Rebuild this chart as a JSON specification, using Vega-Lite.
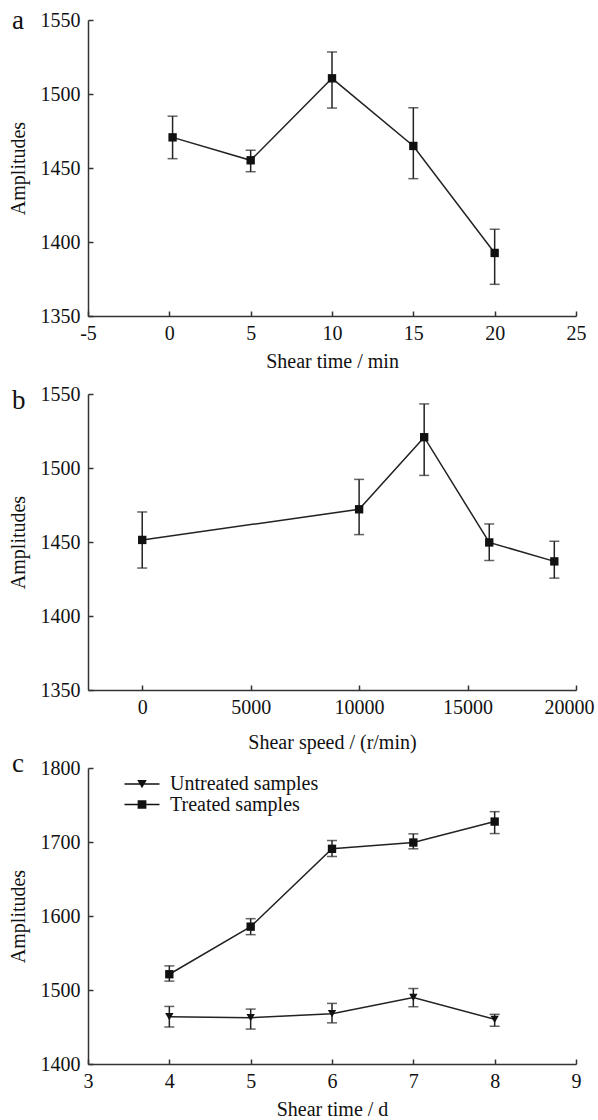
{
  "$schema": "https://vega.github.io/schema/vega-lite/v6.json",
  "background": "white",
  "padding": {"left": 8, "top": 7, "right": 5, "bottom": 5},
  "bounds": "flush",
  "spacing": 78,
  "vconcat": [
    {
      "width": 488,
      "height": 296,
      "data": {"values": [
        {"x": 0.2, "y": 1470.7, "lo": 1456.3, "hi": 1485.0},
        {"x": 5, "y": 1455.2, "lo": 1447.5, "hi": 1462.0},
        {"x": 10, "y": 1510.6, "lo": 1490.5, "hi": 1528.4},
        {"x": 15, "y": 1464.9, "lo": 1442.8, "hi": 1490.7},
        {"x": 20, "y": 1392.6, "lo": 1371.4, "hi": 1408.6}
      ]},
      "layer": [
        {
          "mark": {"type": "errorbar", "ticks": true, "size": 10, "thickness": 1.5, "color": "#222"},
          "encoding": {
            "x": {"field": "x", "type": "quantitative", "title": "Shear time / min", "scale": {"domain": [-5, 25], "nice": false, "zero": false}, "axis": {"values": [-5, 0, 5, 10, 15, 20, 25], "labelExpr": "datum.value < 0 ? '-' + abs(datum.value) : '' + datum.value"}},
            "y": {"field": "lo", "type": "quantitative", "title": "Amplitudes", "scale": {"domain": [1350, 1550], "nice": false, "zero": false}, "axis": {"values": [1350, 1400, 1450, 1500, 1550], "format": "d"}},
            "y2": {"field": "hi"}
          }
        },
        {
          "mark": {"type": "line", "color": "#222", "strokeWidth": 1.5},
          "encoding": {
            "x": {"field": "x", "type": "quantitative", "title": "Shear time / min", "scale": {"domain": [-5, 25], "nice": false, "zero": false}, "axis": {"values": [-5, 0, 5, 10, 15, 20, 25], "labelExpr": "datum.value < 0 ? '-' + abs(datum.value) : '' + datum.value"}},
            "y": {"field": "y", "type": "quantitative", "title": "Amplitudes", "scale": {"domain": [1350, 1550], "nice": false, "zero": false}, "axis": {"values": [1350, 1400, 1450, 1500, 1550], "format": "d"}}
          }
        },
        {
          "mark": {"type": "point", "shape": "square", "filled": true, "size": 70, "color": "#111", "opacity": 1},
          "encoding": {
            "x": {"field": "x", "type": "quantitative", "title": "Shear time / min", "scale": {"domain": [-5, 25], "nice": false, "zero": false}, "axis": {"values": [-5, 0, 5, 10, 15, 20, 25], "labelExpr": "datum.value < 0 ? '-' + abs(datum.value) : '' + datum.value"}},
            "y": {"field": "y", "type": "quantitative", "title": "Amplitudes", "scale": {"domain": [1350, 1550], "nice": false, "zero": false}, "axis": {"values": [1350, 1400, 1450, 1500, 1550], "format": "d"}}
          }
        },
        {
          "data": {"values": [{"label": "a"}]},
          "mark": {"type": "text", "font": "Liberation Serif", "fontSize": 27, "fontWeight": "normal", "color": "#111", "align": "left", "baseline": "alphabetic", "dx": -76, "dy": 9},
          "encoding": {
            "text": {"field": "label"},
            "x": {"datum": -5, "type": "quantitative"},
            "y": {"datum": 1550, "type": "quantitative"}
          }
        }
      ]
    },
    {
      "width": 488,
      "height": 296,
      "data": {"values": [
        {"x": 0, "y": 1451.4, "lo": 1432.4, "hi": 1470.3},
        {"x": 10000, "y": 1472.1, "lo": 1455.0, "hi": 1492.3},
        {"x": 13000, "y": 1520.8, "lo": 1495.0, "hi": 1543.3},
        {"x": 16000, "y": 1449.7, "lo": 1437.5, "hi": 1462.2},
        {"x": 19000, "y": 1436.9, "lo": 1425.6, "hi": 1450.5}
      ]},
      "layer": [
        {
          "mark": {"type": "errorbar", "ticks": true, "size": 10, "thickness": 1.5, "color": "#222"},
          "encoding": {
            "x": {"field": "x", "type": "quantitative", "title": "Shear speed / (r/min)", "scale": {"domain": [-2500, 20000], "nice": false, "zero": false}, "axis": {"values": [0, 5000, 10000, 15000, 20000], "format": "d", "titlePadding": 15, "labelOffset": {"condition": {"test": "datum.value === 20000", "value": -7}, "value": 0}}},
            "y": {"field": "lo", "type": "quantitative", "title": "Amplitudes", "scale": {"domain": [1350, 1550], "nice": false, "zero": false}, "axis": {"values": [1350, 1400, 1450, 1500, 1550], "format": "d"}},
            "y2": {"field": "hi"}
          }
        },
        {
          "mark": {"type": "line", "color": "#222", "strokeWidth": 1.5},
          "encoding": {
            "x": {"field": "x", "type": "quantitative", "title": "Shear speed / (r/min)", "scale": {"domain": [-2500, 20000], "nice": false, "zero": false}, "axis": {"values": [0, 5000, 10000, 15000, 20000], "format": "d", "titlePadding": 15, "labelOffset": {"condition": {"test": "datum.value === 20000", "value": -7}, "value": 0}}},
            "y": {"field": "y", "type": "quantitative", "title": "Amplitudes", "scale": {"domain": [1350, 1550], "nice": false, "zero": false}, "axis": {"values": [1350, 1400, 1450, 1500, 1550], "format": "d"}}
          }
        },
        {
          "mark": {"type": "point", "shape": "square", "filled": true, "size": 70, "color": "#111", "opacity": 1},
          "encoding": {
            "x": {"field": "x", "type": "quantitative", "title": "Shear speed / (r/min)", "scale": {"domain": [-2500, 20000], "nice": false, "zero": false}, "axis": {"values": [0, 5000, 10000, 15000, 20000], "format": "d", "titlePadding": 15, "labelOffset": {"condition": {"test": "datum.value === 20000", "value": -7}, "value": 0}}},
            "y": {"field": "y", "type": "quantitative", "title": "Amplitudes", "scale": {"domain": [1350, 1550], "nice": false, "zero": false}, "axis": {"values": [1350, 1400, 1450, 1500, 1550], "format": "d"}}
          }
        },
        {
          "data": {"values": [{"label": "b"}]},
          "mark": {"type": "text", "font": "Liberation Serif", "fontSize": 27, "fontWeight": "normal", "color": "#111", "align": "left", "baseline": "alphabetic", "dx": -76, "dy": 15},
          "encoding": {
            "text": {"field": "label"},
            "x": {"datum": -2500, "type": "quantitative"},
            "y": {"datum": 1550, "type": "quantitative"}
          }
        }
      ]
    },
    {
      "width": 488,
      "height": 296,
      "data": {"values": [
        {"series": "Untreated samples", "x": 4, "y": 1463.9, "lo": 1450.0, "hi": 1477.8},
        {"series": "Untreated samples", "x": 5, "y": 1462.6, "lo": 1447.2, "hi": 1474.2},
        {"series": "Untreated samples", "x": 6, "y": 1468.0, "lo": 1455.6, "hi": 1481.9},
        {"series": "Untreated samples", "x": 7, "y": 1489.9, "lo": 1477.4, "hi": 1502.0},
        {"series": "Untreated samples", "x": 8, "y": 1460.4, "lo": 1451.0, "hi": 1467.1},
        {"series": "Treated samples", "x": 4, "y": 1521.3, "lo": 1512.0, "hi": 1532.6},
        {"series": "Treated samples", "x": 5, "y": 1585.6, "lo": 1574.8, "hi": 1596.4},
        {"series": "Treated samples", "x": 6, "y": 1690.8, "lo": 1680.4, "hi": 1702.0},
        {"series": "Treated samples", "x": 7, "y": 1699.3, "lo": 1690.8, "hi": 1711.0},
        {"series": "Treated samples", "x": 8, "y": 1727.6, "lo": 1711.4, "hi": 1741.0}
      ]},
      "resolve": {"scale": {"shape": "independent"}, "legend": {"shape": "independent"}},
      "layer": [
        {
          "mark": {"type": "errorbar", "ticks": true, "size": 10, "thickness": 1.5, "color": "#222"},
          "encoding": {
            "x": {"field": "x", "type": "quantitative", "title": "Shear time / d", "scale": {"domain": [3, 9], "nice": false, "zero": false}, "axis": {"values": [3, 4, 5, 6, 7, 8, 9], "format": "d", "titlePadding": 8}},
            "y": {"field": "lo", "type": "quantitative", "title": "Amplitudes", "scale": {"domain": [1400, 1800], "nice": false, "zero": false}, "axis": {"values": [1400, 1500, 1600, 1700, 1800], "format": "d"}},
            "y2": {"field": "hi"},
            "detail": {"field": "series"}
          }
        },
        {
          "mark": {"type": "line", "color": "#222", "strokeWidth": 1.5},
          "encoding": {
            "x": {"field": "x", "type": "quantitative", "title": "Shear time / d", "scale": {"domain": [3, 9], "nice": false, "zero": false}, "axis": {"values": [3, 4, 5, 6, 7, 8, 9], "format": "d", "titlePadding": 8}},
            "y": {"field": "y", "type": "quantitative", "title": "Amplitudes", "scale": {"domain": [1400, 1800], "nice": false, "zero": false}, "axis": {"values": [1400, 1500, 1600, 1700, 1800], "format": "d"}},
            "detail": {"field": "series"}
          }
        },
        {
          "mark": {"type": "point", "filled": true, "size": 70, "color": "#111", "opacity": 1},
          "encoding": {
            "x": {"field": "x", "type": "quantitative", "title": "Shear time / d", "scale": {"domain": [3, 9], "nice": false, "zero": false}, "axis": {"values": [3, 4, 5, 6, 7, 8, 9], "format": "d", "titlePadding": 8}},
            "y": {"field": "y", "type": "quantitative", "title": "Amplitudes", "scale": {"domain": [1400, 1800], "nice": false, "zero": false}, "axis": {"values": [1400, 1500, 1600, 1700, 1800], "format": "d"}},
            "shape": {
              "field": "series", "type": "nominal",
              "scale": {"domain": ["Untreated samples", "Treated samples"], "range": ["triangle-down", "square"]},
              "legend": null
            }
          }
        },
        {
          "mark": {"type": "point", "filled": true, "size": 70, "color": "#111", "opacity": 0},
          "encoding": {
            "x": {"field": "x", "type": "quantitative", "title": "Shear time / d", "scale": {"domain": [3, 9], "nice": false, "zero": false}, "axis": {"values": [3, 4, 5, 6, 7, 8, 9], "format": "d", "titlePadding": 8}},
            "y": {"field": "y", "type": "quantitative", "title": "Amplitudes", "scale": {"domain": [1400, 1800], "nice": false, "zero": false}, "axis": {"values": [1400, 1500, 1600, 1700, 1800], "format": "d"}},
            "shape": {
              "field": "series", "type": "nominal",
              "scale": {"domain": ["Untreated samples", "Treated samples"], "range": ["M-2.2,-0.09H2.2V0.09H-2.2ZM-0.6,-0.5L0.6,-0.5L0,0.55Z", "M-2.2,-0.09H2.2V0.09H-2.2ZM-0.55,-0.55H0.55V0.55H-0.55Z"]},
              "legend": {
                "orient": "none", "legendX": 44, "legendY": 6, "title": null, "padding": 0,
                "labelFont": "Liberation Serif", "labelFontSize": 20, "labelColor": "#111",
                "symbolSize": 253, "symbolStrokeWidth": 0, "symbolFillColor": "#111", "symbolOpacity": 1,
                "labelOffset": 18, "rowPadding": 0.5
              }
            }
          }
        },
        {
          "data": {"values": [{"label": "c"}]},
          "mark": {"type": "text", "font": "Liberation Serif", "fontSize": 27, "fontWeight": "normal", "color": "#111", "align": "left", "baseline": "alphabetic", "dx": -76, "dy": 4},
          "encoding": {
            "text": {"field": "label"},
            "x": {"datum": 3, "type": "quantitative"},
            "y": {"datum": 1800, "type": "quantitative"}
          }
        }
      ]
    }
  ],
  "config": {
    "font": "Liberation Serif",
    "view": {"stroke": null},
    "axis": {
      "grid": false, "domainColor": "#333", "domainWidth": 1.5, "tickColor": "#333", "tickWidth": 1.5, "tickSize": -5,
      "labelFont": "Liberation Serif", "labelFontSize": 20, "labelColor": "#111", "labelFlush": false, "labelOverlap": false, "labelBound": false,
      "titleFont": "Liberation Serif", "titleFontSize": 20, "titleFontWeight": "normal", "titleColor": "#111"
    },
    "axisX": {"labelPadding": 12, "titlePadding": 8},
    "axisY": {"labelPadding": 13, "titlePadding": 12}
  }
}
